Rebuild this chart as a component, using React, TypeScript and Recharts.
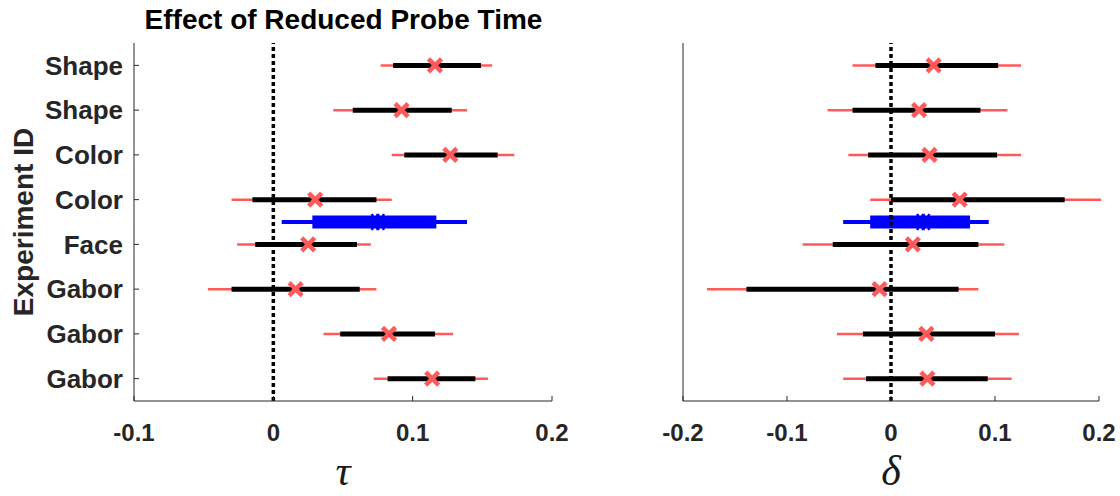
import { ScatterChart, Scatter, XAxis, YAxis, ErrorBar, ReferenceLine } from "recharts";

// experiment rows, top to bottom
const names = ["Shape", "Shape", "Color", "Color", "Face", "Gabor", "Gabor", "Gabor"];
const rowIds = [1, 2, 3, 4, 5, 6, 7, 8];

// tau panel
const tauMean = [0.116, 0.092, 0.127, 0.030, 0.025, 0.016, 0.083, 0.114];
const tauInnerLo = [0.086, 0.057, 0.094, -0.015, -0.013, -0.030, 0.048, 0.082];
const tauInnerHi = [0.149, 0.128, 0.161, 0.074, 0.060, 0.062, 0.116, 0.145];
const tauOuterLo = [0.077, 0.043, 0.085, -0.030, -0.026, -0.047, 0.036, 0.072];
const tauOuterHi = [0.157, 0.139, 0.173, 0.085, 0.070, 0.074, 0.129, 0.154];

// delta panel
const deltaMean = [0.041, 0.027, 0.037, 0.066, 0.021, -0.011, 0.034, 0.035];
const deltaInnerLo = [-0.015, -0.037, -0.022, 0.000, -0.056, -0.139, -0.027, -0.024];
const deltaInnerHi = [0.103, 0.086, 0.102, 0.167, 0.084, 0.065, 0.100, 0.093];
const deltaOuterLo = [-0.037, -0.061, -0.041, -0.020, -0.085, -0.177, -0.052, -0.046];
const deltaOuterHi = [0.125, 0.112, 0.125, 0.202, 0.109, 0.084, 0.123, 0.116];

// pooled estimate (blue), sits between rows 4 and 5
const pooledRow = 4.5;
const pooledTau = { mean: 0.075, innerLo: 0.028, innerHi: 0.117, outerLo: 0.006, outerHi: 0.139 };
const pooledDelta = { mean: 0.031, innerLo: -0.020, innerHi: 0.076, outerLo: -0.046, outerHi: 0.094 };

const tauTicks = [-0.1, 0, 0.1, 0.2];
const deltaTicks = [-0.2, -0.1, 0, 0.1, 0.2];

const FONT = "'Liberation Sans', Arial, Helvetica, sans-serif";
const AXIS = "#262626";
const RED = "#ff5a5a";

function buildRows(mean: number[], iLo: number[], iHi: number[], oLo: number[], oHi: number[]) {
    return rowIds.map((r, i) => ({
        y: r,
        x: mean[i],
        inner: [mean[i] - iLo[i], iHi[i] - mean[i]],
        outer: [mean[i] - oLo[i], oHi[i] - mean[i]],
    }));
}

function buildPooled(p: any) {
    return [{
        y: pooledRow,
        x: p.mean,
        inner: [p.mean - p.innerLo, p.innerHi - p.mean],
        outer: [p.mean - p.outerLo, p.outerHi - p.mean],
    }];
}

function RedX(props: any) {
    const { cx, cy } = props;
    const s = 6.5;
    return (
        <g stroke={RED} strokeWidth={4.5}>
            <line x1={cx - s} y1={cy - s} x2={cx + s} y2={cy + s} />
            <line x1={cx - s} y1={cy + s} x2={cx + s} y2={cy - s} />
        </g>
    );
}

function BlueX(props: any) {
    const { cx, cy } = props;
    const s = 8;
    return (
        <g stroke="#0000ff" strokeWidth={2.5}>
            {[-3, 3].map((d) => (
                <g key={d}>
                    <line x1={cx + d - 3} y1={cy - s} x2={cx + d + 3} y2={cy + s} />
                    <line x1={cx + d - 3} y1={cy + s} x2={cx + d + 3} y2={cy - s} />
                </g>
            ))}
        </g>
    );
}

const xTickStyle = { fontFamily: FONT, fontWeight: "bold", fontSize: 24, fill: AXIS };
const yTickStyle = { fontFamily: FONT, fontWeight: "bold", fontSize: 26, fill: AXIS };

interface PanelProps {
    rows: any[];
    pooled: any[];
    domain: [number, number];
    ticks: number[];
    symbol: string;
    yWidth: number;
    rightMargin: number;
    showNames: boolean;
}

function Panel(props: PanelProps): JSX.Element {
    return (
        <ScatterChart
            width={580}
            height={496}
            margin={{ top: 43, right: props.rightMargin, bottom: 41, left: 0 }}>

            <XAxis
                type="number"
                dataKey="x"
                domain={props.domain}
                ticks={props.ticks}
                allowDataOverflow
                height={54}
                tickSize={-5}
                tickMargin={28}
                tickFormatter={(v: number) => String(v)}
                tick={xTickStyle}
                stroke={AXIS}
                label={{
                    value: props.symbol,
                    position: "bottom",
                    offset: 0,
                    style: { fontFamily: "'Liberation Serif', 'DejaVu Serif', serif", fontStyle: "italic", fontSize: 42, fill: "#1a1a1a" },
                }}
            />
            <YAxis
                type="number"
                dataKey="y"
                domain={[0.5, 8.5]}
                ticks={rowIds}
                reversed
                width={props.yWidth}
                tickSize={-5}
                tickMargin={16}
                tick={props.showNames ? yTickStyle : false}
                tickFormatter={(v: number) => names[v - 1]}
                stroke={AXIS}
            />

            <Scatter data={props.rows} shape={<RedX />} isAnimationActive={false}>
                <ErrorBar dataKey="outer" direction="x" width={0} stroke={RED} strokeWidth={2.5} isAnimationActive={false} />
                <ErrorBar dataKey="inner" direction="x" width={0} stroke="#000000" strokeWidth={5} isAnimationActive={false} />
            </Scatter>
            <Scatter data={props.pooled} shape={<BlueX />} isAnimationActive={false}>
                <ErrorBar dataKey="outer" direction="x" width={0} stroke="#0000ff" strokeWidth={4} isAnimationActive={false} />
                <ErrorBar dataKey="inner" direction="x" width={0} stroke="#0000ff" strokeWidth={13} isAnimationActive={false} />
            </Scatter>

            <ReferenceLine x={0} stroke="#000000" strokeWidth={3.5} strokeDasharray="4 3" />
        </ScatterChart>
    );
}

function App(): JSX.Element {
    const tauRows = buildRows(tauMean, tauInnerLo, tauInnerHi, tauOuterLo, tauOuterHi);
    const deltaRows = buildRows(deltaMean, deltaInnerLo, deltaInnerHi, deltaOuterLo, deltaOuterHi);

    return (
        <div style={{ position: "absolute", left: 0, top: 0, width: 1120, height: 496, background: "#ffffff", overflow: "hidden" }}>
            <div style={{ position: "absolute", left: 0, top: 0 }}>
                <Panel rows={tauRows} pooled={buildPooled(pooledTau)} domain={[-0.1, 0.2]} ticks={tauTicks}
                    symbol="τ" yWidth={134} rightMargin={28} showNames={true} />
            </div>
            <div style={{ position: "absolute", left: 560, top: 0 }}>
                <Panel rows={deltaRows} pooled={buildPooled(pooledDelta)} domain={[-0.2, 0.2]} ticks={deltaTicks}
                    symbol="δ" yWidth={123} rightMargin={41} showNames={false} />
            </div>

            <div style={{
                position: "absolute", left: 0, top: 4, width: 687, textAlign: "center",
                fontFamily: FONT, fontWeight: "bold", fontSize: 28, color: "#000000", whiteSpace: "nowrap",
            }}>
                Effect of Reduced Probe Time
            </div>
            <div style={{
                position: "absolute", left: 24, top: 222, transform: "translate(-50%, -50%) rotate(-90deg)",
                fontFamily: FONT, fontWeight: "bold", fontSize: 28, color: AXIS, whiteSpace: "nowrap",
            }}>
                Experiment ID
            </div>
        </div>
    );
}

export default App;
